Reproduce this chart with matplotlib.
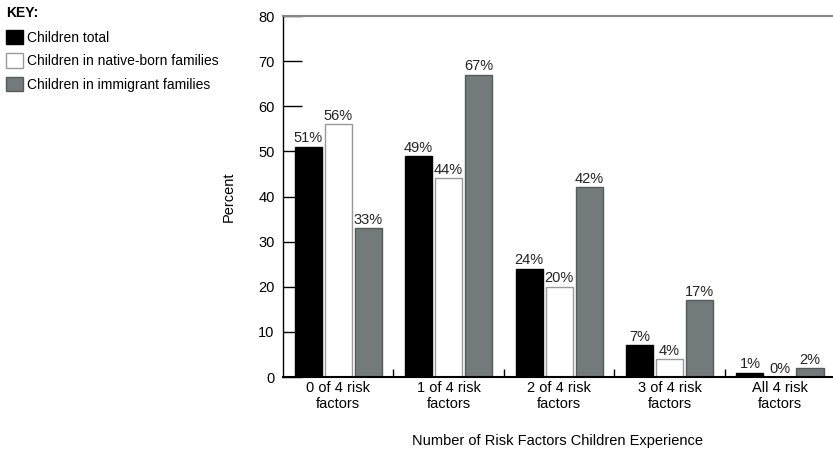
import numpy as np
import matplotlib.pyplot as plt

plt.rcParams['font.family'] = ['Liberation Sans', 'DejaVu Sans']

categories = ['0 of 4 risk\nfactors', '1 of 4 risk\nfactors', '2 of 4 risk\nfactors',
              '3 of 4 risk\nfactors', 'All 4 risk\nfactors']
total = [51, 49, 24, 7, 1]
native = [56, 44, 20, 4, 0]
immigrant = [33, 67, 42, 17, 2]

series = [
    ('Children total', total, 'black', 'black'),
    ('Children in native-born families', native, 'white', '#999999'),
    ('Children in immigrant families', immigrant, '#737a7b', '#555b5c'),
]

fig = plt.figure(figsize=(8.33, 4.51), dpi=100)
ax = fig.add_axes([0.3397, 0.164, 0.6603, 0.8005])

x = np.arange(len(categories))
width = 0.245
step = 0.272
for i, (name, vals, face, edge) in enumerate(series):
    bars = ax.bar(x + (i - 1) * step, vals, width, color=face, edgecolor=edge,
                  linewidth=1, label=name, zorder=2)
    ax.bar_label(bars, fmt='%d%%', padding=1, fontsize=10.5, color='#222222')

ax.set_xlim(-0.5, 4.48)
ax.set_ylim(0, 80)
ax.set_yticks(range(0, 81, 10))
ax.tick_params(axis='y', direction='in', length=14, width=1, labelsize=10.5, pad=6)
ax.set_xticks(x, categories)
ax.set_xticks(x[:-1] + 0.5, minor=True)
ax.tick_params(axis='x', which='major', length=0, labelsize=10.5, pad=3)
ax.tick_params(axis='x', which='minor', direction='in', length=6, width=1)

ax.spines['right'].set_visible(False)
ax.spines['top'].set_color('#888888')
ax.spines['top'].set_linewidth(1.5)
ax.spines['left'].set_linewidth(1)
ax.spines['bottom'].set_linewidth(1.5)

ax.set_ylabel('Percent', fontsize=10.5, labelpad=16)
ax.set_xlabel('Number of Risk Factors Children Experience', fontsize=10.5, labelpad=16)

leg = fig.legend(loc='upper left', bbox_to_anchor=(0.0, 1.0), frameon=False,
                 title='KEY:', alignment='left', fontsize=10,
                 title_fontproperties={'weight': 'bold', 'size': 10},
                 handlelength=1.2, handleheight=1.2, handletextpad=0.3,
                 labelspacing=0.62, borderaxespad=0.3, borderpad=0.15)
leg._legend_box.sep = 7

fig.savefig('out.png', dpi=100)
